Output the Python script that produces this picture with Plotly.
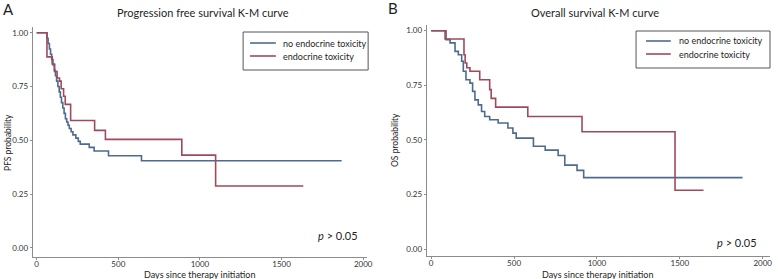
import plotly.graph_objects as go

# ---- data ----
pfs_no_t = [0, 63, 70, 78, 85, 92, 100, 108, 115, 122, 130, 138, 145, 152, 160, 168, 176, 184, 192, 200, 211, 222, 240, 255, 267, 322, 352, 440, 642, 1868]
pfs_no_s = [1.0, 0.975, 0.95, 0.925, 0.90, 0.875, 0.85, 0.825, 0.80, 0.775, 0.75, 0.725, 0.70, 0.675, 0.65, 0.625, 0.60, 0.585, 0.57, 0.555, 0.54, 0.525, 0.51, 0.495, 0.482, 0.467, 0.45, 0.428, 0.405, 0.405]
pfs_tox_t = [0, 63, 95, 110, 125, 140, 150, 165, 175, 208, 355, 421, 889, 1096, 1633]
pfs_tox_s = [1.0, 0.888, 0.855, 0.82, 0.79, 0.775, 0.74, 0.705, 0.667, 0.592, 0.546, 0.504, 0.431, 0.287, 0.287]

os_no_t = [0, 90, 114, 144, 164, 184, 194, 210, 234, 250, 264, 284, 304, 323, 353, 404, 463, 493, 513, 617, 688, 766, 806, 880, 920, 1878]
os_no_s = [1.0, 0.959, 0.944, 0.905, 0.89, 0.86, 0.814, 0.775, 0.76, 0.722, 0.683, 0.66, 0.63, 0.607, 0.592, 0.577, 0.554, 0.531, 0.508, 0.471, 0.453, 0.428, 0.384, 0.36, 0.327, 0.327]
os_tox_t = [0, 84, 198, 205, 215, 234, 293, 353, 362, 389, 583, 910, 1471, 1643]
os_tox_s = [1.0, 0.962, 0.89, 0.852, 0.83, 0.814, 0.775, 0.73, 0.69, 0.65, 0.607, 0.537, 0.269, 0.269]

series_names = ["no endocrine toxicity", "endocrine toxicity"]
x_ticks = [0, 500, 1000, 1500, 2000]
y_ticks = [0.0, 0.25, 0.5, 0.75, 1.0]
y_tick_labels = ["0.00", "0.25", "0.50", "0.75", "1.00"]

BLUE = "#4e6b8c"
RED = "#9e4a5c"
COLORS = [BLUE, RED]
FONT = "Lato"
TXT = "#1e1e1e"
W, H = 778, 279

def px(x):
    return x / W

def py(y):
    return 1 - y / H

fig = go.Figure()
fig.add_trace(go.Scatter(x=pfs_no_t, y=pfs_no_s, mode="lines", line=dict(shape="hv", color=BLUE, width=1.6),
                         name=series_names[0], xaxis="x", yaxis="y"))
fig.add_trace(go.Scatter(x=pfs_tox_t, y=pfs_tox_s, mode="lines", line=dict(shape="hv", color=RED, width=1.6),
                         name=series_names[1], xaxis="x", yaxis="y"))
fig.add_trace(go.Scatter(x=os_no_t, y=os_no_s, mode="lines", line=dict(shape="hv", color=BLUE, width=1.6),
                         name=series_names[0], xaxis="x2", yaxis="y2"))
fig.add_trace(go.Scatter(x=os_tox_t, y=os_tox_s, mode="lines", line=dict(shape="hv", color=RED, width=1.6),
                         name=series_names[1], xaxis="x2", yaxis="y2"))

axis_common = dict(showgrid=False, zeroline=False, showline=True, linecolor="#8c8c8c", linewidth=1,
                   ticks="outside", ticklen=2, tickcolor="#8c8c8c",
                   tickfont=dict(family=FONT, size=8, color="#333333"))

fig.update_layout(
    width=W, height=H,
    margin=dict(l=0, r=0, t=0, b=0),
    paper_bgcolor="white", plot_bgcolor="white",
    font=dict(family=FONT, color=TXT),
    showlegend=False,
    xaxis=dict(domain=[px(33), px(370)], range=[-24, 2024], tickvals=x_ticks, anchor="y",
               ticklabelstandoff=-3, **axis_common),
    yaxis=dict(domain=[py(257), py(27)], range=[-0.043, 1.027], tickvals=y_ticks, ticktext=y_tick_labels,
               anchor="x", **axis_common),
    xaxis2=dict(domain=[px(430), px(776)], range=[-27, 2044], tickvals=x_ticks, anchor="y2",
                ticklabelstandoff=-3, **axis_common),
    yaxis2=dict(domain=[py(256), py(25)], range=[-0.032, 1.026], tickvals=y_ticks, ticktext=y_tick_labels,
                anchor="x2", **axis_common),
)

ann = [
    dict(text="A", x=px(1), y=py(9), xanchor="left", yanchor="middle", font=dict(size=15, family=FONT, color=TXT)),
    dict(text="B", x=px(389), y=py(8), xanchor="left", yanchor="middle", font=dict(size=15, family=FONT, color=TXT)),
    dict(text="Progression free survival K-M curve", x=px(205), y=py(13), xanchor="center", yanchor="middle",
         font=dict(size=11, family=FONT, color=TXT)),
    dict(text="Overall survival K-M curve", x=px(600), y=py(13), xanchor="center", yanchor="middle",
         font=dict(size=11, family=FONT, color=TXT)),
    dict(text="PFS probability", x=px(8), y=py(142), textangle=-90, xanchor="center", yanchor="middle",
         font=dict(size=8.5, family=FONT, color=TXT)),
    dict(text="OS probability", x=px(398), y=py(140), textangle=-90, xanchor="center", yanchor="middle",
         font=dict(size=8.5, family=FONT, color=TXT)),
    dict(text="Days since therapy initiation", x=px(202), y=py(274.5), xanchor="center", yanchor="middle",
         font=dict(size=9, family=FONT, color=TXT)),
    dict(text="Days since therapy initiation", x=px(603), y=py(274.5), xanchor="center", yanchor="middle",
         font=dict(size=9, family=FONT, color=TXT)),
    dict(text="<i>p</i> > 0.05", x=px(363), y=py(235), xanchor="right", yanchor="middle",
         font=dict(size=11, family=FONT, color=TXT)),
    dict(text="<i>p</i> > 0.05", x=px(765), y=py(242), xanchor="right", yanchor="middle",
         font=dict(size=11, family=FONT, color=TXT)),
]

# legend boxes drawn as shapes + text (box x0, x1, y0, y1, line x0, x1, text x, rows y)
legend_boxes = [
    (245, 371, 32, 70, 252, 278, 283, [43, 56]),
    (641, 776, 31, 68, 651, 676, 682, [41, 54]),
]
shapes = []
for (bx0, bx1, by0, by1, lx0, lx1, tx, rows) in legend_boxes:
    shapes.append(dict(type="rect", xref="paper", yref="paper", x0=px(bx0), x1=px(bx1), y0=py(by1), y1=py(by0),
                       line=dict(color="#555555", width=1), fillcolor="white", layer="above"))
    for name, color, ry in zip(series_names, COLORS, rows):
        shapes.append(dict(type="line", xref="paper", yref="paper", x0=px(lx0), x1=px(lx1), y0=py(ry), y1=py(ry),
                           line=dict(color=color, width=1.6), layer="above"))
        ann.append(dict(text=name, x=px(tx), y=py(ry), xanchor="left", yanchor="middle",
                        font=dict(size=9, family=FONT, color=TXT)))

for a in ann:
    a.update(xref="paper", yref="paper", showarrow=False)
fig.update_layout(annotations=ann, shapes=shapes)

fig.write_html("out.html", config={"displayModeBar": False},
               post_script="document.body.style.margin='0';document.body.style.overflow='hidden';")
